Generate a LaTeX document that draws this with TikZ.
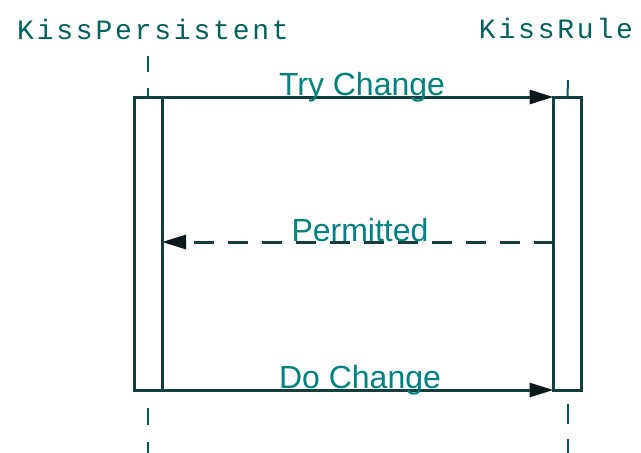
\documentclass[tikz,border=0pt]{standalone}
\usepackage{fontspec}
\setmainfont{Liberation Sans}
\newfontfamily\monofont[LetterSpace=10]{Liberation Mono}
\usetikzlibrary{arrows.meta}
\definecolor{lineclr}{RGB}{20,62,62}
\definecolor{textclr}{RGB}{0,128,128}
\definecolor{headclr}{RGB}{10,25,25}
\begin{document}
\begin{tikzpicture}[x=1pt,y=-1pt,
  act/.style={draw=lineclr,line width=3pt,minimum width=28pt,minimum height=293pt,inner sep=0pt,outer sep=0pt},
  msg/.style={draw=lineclr,line width=3pt,-{Triangle[length=24pt,width=14pt,color=headclr,fill=headclr]}},
  ret/.style={msg,dash pattern=on 20pt off 14pt},
  lbl/.style={text=textclr,font=\fontsize{32}{34}\selectfont,inner sep=0pt,anchor=base},
  hdr/.style={text=textclr!75!black,font=\monofont\fontsize{28}{30}\selectfont,inner sep=0pt,anchor=base},
  life/.style={draw=lineclr!70!textclr,line width=2pt}]
\useasboundingbox (0,0) rectangle (641,453);
\node[act] (la) at (148,243.5) {};
\node[act] (ra) at (567.5,243.5) {};
\node[hdr] (h1) at (153,39) {KissPersistent};
\node[hdr] (h2) at (556,38) {KissRule};
\coordinate (l1) at (148,56);
\coordinate (l2) at (148,72);
\coordinate (l3) at (148,88);
\coordinate (l4) at (148,408);
\coordinate (l5) at (148,453);
\coordinate (r1) at (568,80);
\coordinate (r4) at (568,404);
\coordinate (r5) at (568,453);
\draw[life] (l1) -- (l2);
\draw[life] (l3) -- (la.north);
\draw[life] (r1) -- (ra.north);
\draw[life,dash pattern=on 17pt off 17pt] (l4) -- (l5);
\draw[life,dash pattern=on 20pt off 15pt] (r4) -- (r5);
\draw[msg] (la.north east) -- (ra.north west);
\draw[ret] ([yshift=-145pt]ra.north west) -- ([yshift=-145pt]la.north east);
\draw[msg] (la.south east) -- (ra.south west);
\node[lbl] (t1) at (362,95) {Try Change};
\node[lbl] (t2) at (360,241) {Permitted};
\node[lbl] (t3) at (360,388) {Do Change};
\end{tikzpicture}
\end{document}
